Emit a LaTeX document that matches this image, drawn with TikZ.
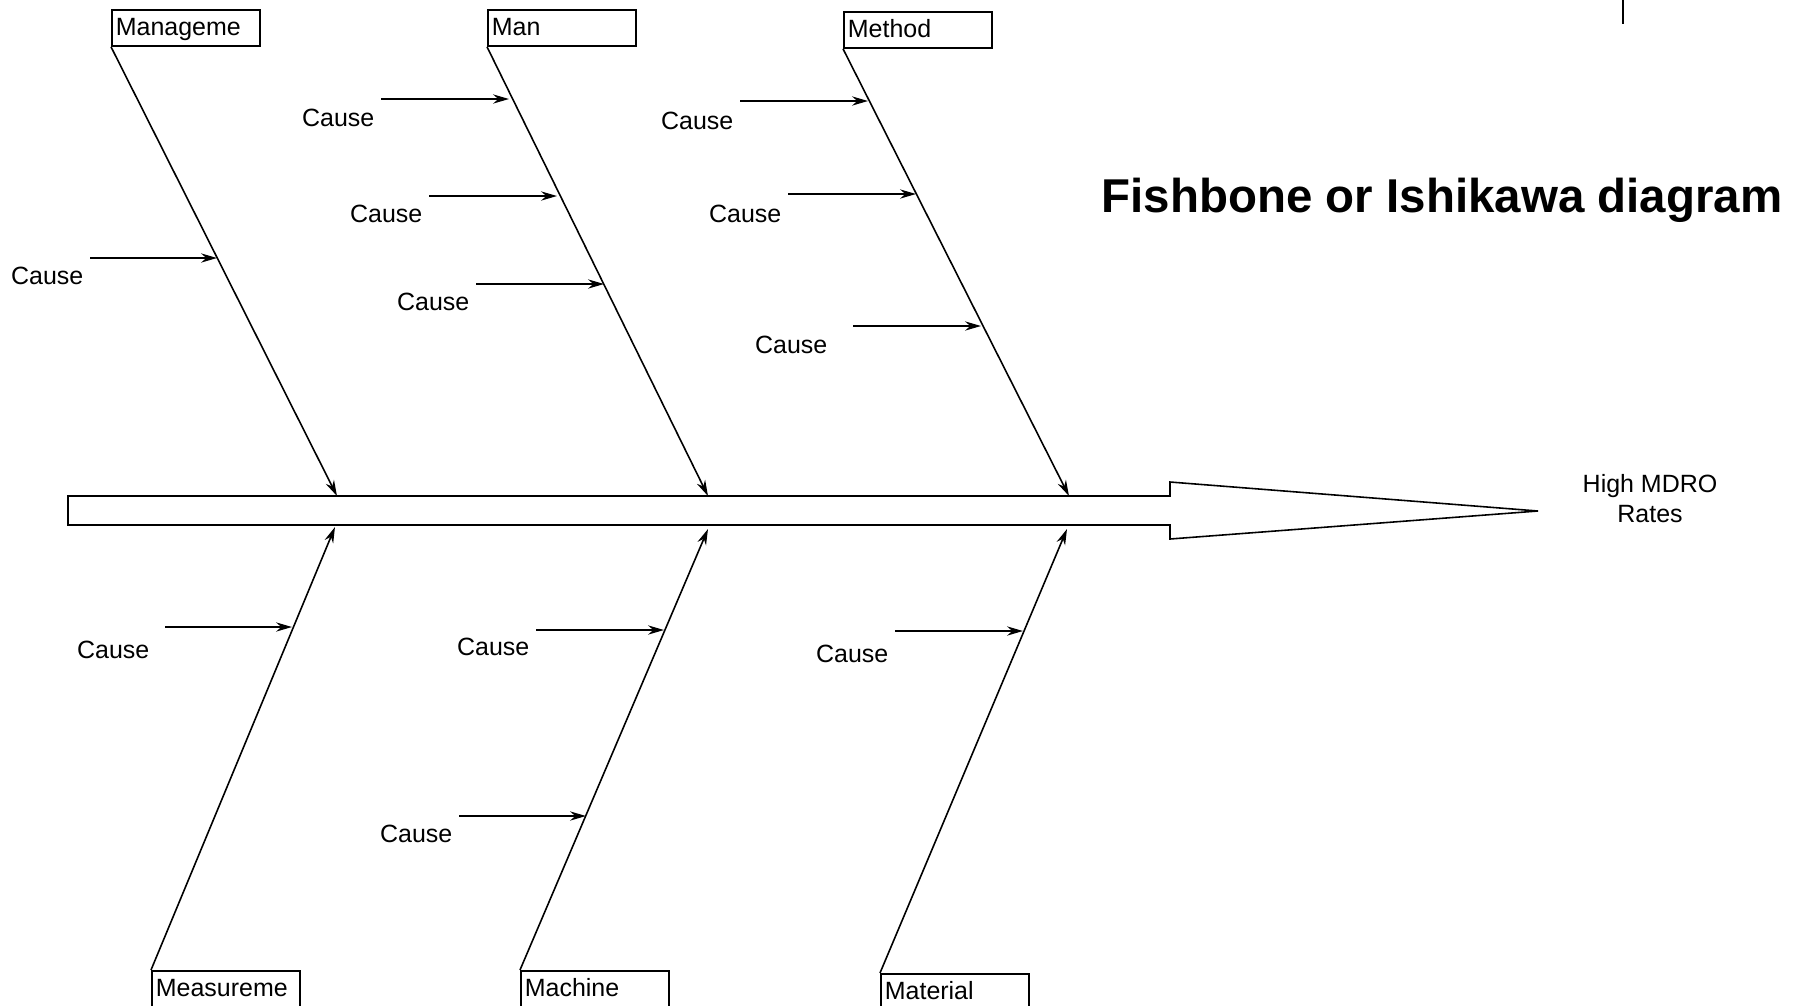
\documentclass[tikz,border=0pt]{standalone}
\usepackage{fontspec}
\setmainfont{Liberation Sans}
\usetikzlibrary{arrows.meta,positioning}

\begin{document}
\begin{tikzpicture}[x=0.01cm,y=-0.01cm,>={Stealth[length=4.5pt,width=2.6pt]},
  bone/.style={->,line width=0.45pt},
  causearrow/.style={->,line width=0.6pt}]

% Define block styles
\tikzstyle{category} = [draw, rectangle, anchor=north west, line width=0.5pt,
    text width=1.40cm, inner xsep=0.04cm, inner ysep=0pt, minimum height=0.36cm,
    text height=0.72em, text depth=0.28em, font=\fontsize{7.1}{8.5}\selectfont]
\tikzstyle{cause} = [inner sep=0pt, font=\fontsize{7.1}{8.5}\selectfont]

\useasboundingbox (0,0) rectangle (1808,1005);

% spine
\draw[line width=0.45pt, fill=white] (68,496) -- (1170,496) -- (1170,482) -- (1538,511)
  -- (1170,539) -- (1170,525) -- (68,525) -- cycle;
\node[align=center, font=\fontsize{7.1}{8.54}\selectfont] (effect) at (1650,499) {High MDRO\\Rates};
\node[anchor=base west, inner sep=0pt, font=\fontsize{13.5}{16}\selectfont\bfseries] (title) at (1101,212) {Fishbone or Ishikawa diagram};
\draw[line width=0.6pt] (1623,0) -- (1623,24);

% categories
\node[category] (mgmt)   at (111,9)   {Manageme};
\node[category] (man)    at (487,9)   {Man};
\node[category] (method) at (843,11)  {Method};
\node[category] (meas)   at (151,970) {Measureme};
\node[category] (mach)   at (520,970) {Machine};
\node[category] (mat)    at (880,973) {Material};

\coordinate (mgmtTip)   at (337,496);
\coordinate (manTip)    at (708,496);
\coordinate (methodTip) at (1069,496);
\coordinate (measTip)   at (335,527);
\coordinate (machTip)   at (708,529);
\coordinate (matTip)    at (1067,529);

\draw[bone] (mgmt.south west) -- (mgmtTip);
\draw[bone] (man.south west) -- (manTip);
\draw[bone] (method.south west) -- (methodTip);
\draw[bone] (meas.north west) -- (measTip);
\draw[bone] (mach.north west) -- (machTip);
\draw[bone] (mat.north west) -- (matTip);

% causes
\coordinate (mg1s) at (90,258);   \coordinate (mg1e) at (217,258);
\coordinate (mn1s) at (381,99);   \coordinate (mn1e) at (509,99);
\coordinate (mn2s) at (429,196);  \coordinate (mn2e) at (557,196);
\coordinate (mn3s) at (476,284);  \coordinate (mn3e) at (604,284);
\coordinate (me1s) at (740,101);  \coordinate (me1e) at (868,101);
\coordinate (me2s) at (788,194);  \coordinate (me2e) at (916,194);
\coordinate (me3s) at (853,326);  \coordinate (me3e) at (981,326);
\coordinate (ms1s) at (165,627);  \coordinate (ms1e) at (292,627);
\coordinate (mc1s) at (536,630);  \coordinate (mc1e) at (664,630);
\coordinate (mc2s) at (459,816);  \coordinate (mc2e) at (586,816);
\coordinate (mt1s) at (895,631);  \coordinate (mt1e) at (1023,631);

\node[cause, below left=0.08cm and 0.06cm of mg1s] (mg1) {Cause};
\node[cause, below left=0.09cm and 0.06cm of mn1s] (mn1) {Cause};
\node[cause, below left=0.08cm and 0.06cm of mn2s] (mn2) {Cause};
\node[cause, below left=0.08cm and 0.06cm of mn3s] (mn3) {Cause};
\node[cause, below left=0.10cm and 0.06cm of me1s] (me1) {Cause};
\node[cause, below left=0.10cm and 0.06cm of me2s] (me2) {Cause};
\node[cause, below left=0.09cm and 0.25cm of me3s] (me3) {Cause};
\node[cause, below left=0.13cm and 0.15cm of ms1s] (ms1) {Cause};
\node[cause, below left=0.07cm and 0.06cm of mc1s] (mc1) {Cause};
\node[cause, below left=0.08cm and 0.06cm of mc2s] (mc2) {Cause};
\node[cause, below left=0.13cm and 0.06cm of mt1s] (mt1) {Cause};

\draw[causearrow] (mg1s) -- (mg1e);
\draw[causearrow] (mn1s) -- (mn1e);
\draw[causearrow] (mn2s) -- (mn2e);
\draw[causearrow] (mn3s) -- (mn3e);
\draw[causearrow] (me1s) -- (me1e);
\draw[causearrow] (me2s) -- (me2e);
\draw[causearrow] (me3s) -- (me3e);
\draw[causearrow] (ms1s) -- (ms1e);
\draw[causearrow] (mc1s) -- (mc1e);
\draw[causearrow] (mc2s) -- (mc2e);
\draw[causearrow] (mt1s) -- (mt1e);

\end{tikzpicture}
\end{document}
